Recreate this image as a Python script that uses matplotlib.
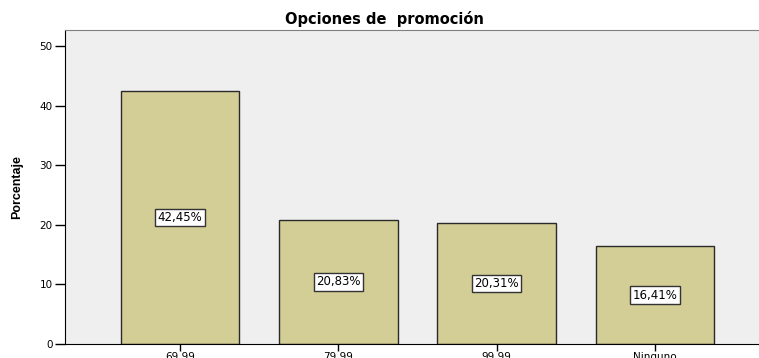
import numpy as np
import matplotlib.pyplot as plt

plt.rcParams['font.family'] = ['DejaVu Sans']

# Opciones de promoción (porcentaje de respuestas)
categorias = ['69.99', '79.99', '99.99', 'Ninguno']
porcentajes = [42.45, 20.83, 20.31, 16.41]
etiquetas = ['42,45%', '20,83%', '20,31%', '16,41%']

fig = plt.figure(figsize=(7.59, 3.58), dpi=100)
ax = fig.add_axes([0.0856, 0.039, 0.9144, 0.877])
ax.set_facecolor('#efefef')

x = np.arange(len(categorias))
ax.bar(x, porcentajes, width=0.75, color='#d3cd96', edgecolor='#2a2a2a', linewidth=1.0, zorder=2)

for xi, v, t in zip(x, porcentajes, etiquetas):
    ax.text(xi, v / 2, t, ha='center', va='center', fontsize=8.5, zorder=3,
            bbox=dict(boxstyle='square,pad=0.2', facecolor='white', edgecolor='#333333', linewidth=1.0))

ax.set_xlim(-0.726, 3.657)
ax.set_ylim(0, 52.7)
ax.set_yticks([0, 10, 20, 30, 40, 50])
ax.set_xticks(x)
ax.set_xticklabels(categorias)
ax.tick_params(axis='y', direction='out', length=7, width=1, labelsize=7.5, pad=2)
ax.tick_params(axis='x', direction='out', length=5, width=1, labelsize=7.5, pad=1)

ax.spines['right'].set_visible(False)
ax.spines['top'].set_color('#808080')
ax.spines['left'].set_color('black')
ax.spines['bottom'].set_color('black')

ax.set_ylabel('Porcentaje', fontsize=9, fontweight='bold', family='Liberation Sans', labelpad=12)
fig.text(0.507, 0.948, 'Opciones de  promoción', ha='center', va='center', fontsize=10.5, fontweight='bold')

fig.savefig('out.png', dpi=100)
